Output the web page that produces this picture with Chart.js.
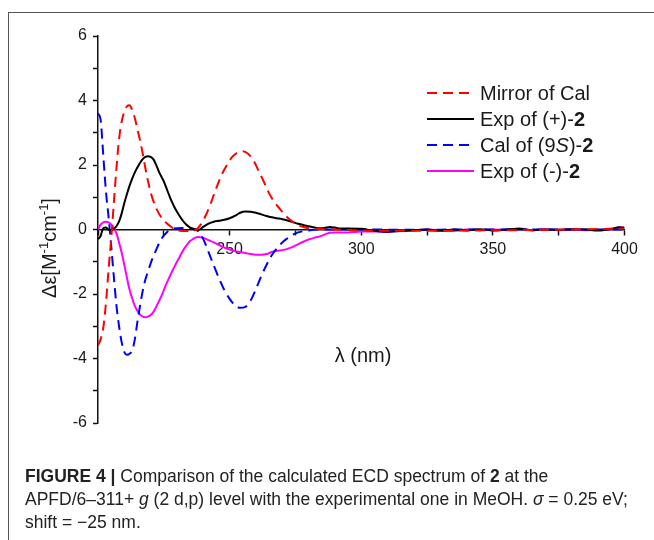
<!DOCTYPE html>
<html lang="en">
<head>
<meta charset="UTF-8">
<title>Figure 4 - ECD spectra</title>
<script src="https://cdn.jsdelivr.net/npm/chart.js"></script>
<style>
    html, body { margin: 0; padding: 0; background: #fff; }
    body { width: 654px; height: 540px; position: relative; overflow: hidden; font-family: "Liberation Sans", Arial, sans-serif; }
    #frame { position: absolute; left: 8px; top: 12px; right: -4px; bottom: -4px; border-top: 1.5px solid #555; border-left: 1.5px solid #555; }
    #ecd { position: absolute; left: 0; top: 0; }
    .caption { position: absolute; left: 25px; top: 465px; font-size: 17.5px; line-height: 23px; color: #222; white-space: nowrap; }
</style>
</head>
<body>
<div id="frame"></div>
<canvas id="ecd" width="654" height="540"></canvas>
<div class="caption">
    <b>FIGURE 4 |</b> Comparison of the calculated ECD spectrum of <b>2</b> at the<br>
    APFD/6–311+ <i>g</i> (2 d,p) level with the experimental one in MeOH. <i>σ</i> = 0.25 eV;<br>
    shift = −25 nm.
</div>

<script>
    // Mirror of Cal (red dashed)
    const wlMirror = [200, 201, 202, 203, 204, 205, 206, 207, 208, 209, 210, 211, 212, 213, 214, 215, 216, 217, 218, 219, 220,
        222, 224, 226, 228, 230, 234, 237, 239, 241, 243, 245, 247, 249, 251, 253, 255, 257, 259, 261, 263, 265, 267, 269,
        271, 273, 275, 278, 282, 290, 300, 320, 340, 360, 380, 400];
    const mirrorCal = [-3.6, -3.4, -3.05, -2.3, -1.25, -0.3, 0.8, 1.9, 2.8, 3.35, 3.65, 3.82, 3.85, 3.7, 3.45, 3.1, 2.75, 2.35, 1.9, 1.5, 1.15,
        0.68, 0.38, 0.2, 0.07, -0.02, -0.05, -0.02, 0.15, 0.45, 0.85, 1.3, 1.7, 2.0, 2.25, 2.38, 2.43, 2.35, 2.15, 1.82, 1.48, 1.12, 0.85, 0.65,
        0.45, 0.3, 0.18, 0.08, 0.03, 0, -0.03, -0.04, -0.03, -0.02, 0, 0.03];

    // Cal of (9S)-2 (blue dashed)
    const wlCal = [200, 201, 202, 203, 204, 205, 206, 207, 208, 209, 210, 211, 212, 213, 214, 215, 216, 217, 218, 219, 220,
        222, 224, 226, 228, 232, 236, 238, 240, 242, 244, 246, 248, 250, 252, 254, 256, 258, 260, 262, 264, 266, 268, 270,
        272, 274, 276, 280, 285, 290, 300, 320, 340, 360, 380, 400];
    const calS = [3.6, 3.4, 2.3, 1.2, 0.4, -0.5, -1.45, -2.35, -3.0, -3.5, -3.8, -3.88, -3.85, -3.75, -3.4, -2.85, -2.35, -1.9, -1.55, -1.3, -1.05,
        -0.65, -0.3, -0.1, 0.02, 0.05, 0.03, -0.05, -0.3, -0.7, -1.12, -1.52, -1.88, -2.15, -2.35, -2.43, -2.4, -2.2, -1.85, -1.45, -1.1, -0.8, -0.58, -0.4,
        -0.27, -0.16, -0.09, -0.03, 0, 0, 0, -0.01, 0, 0, 0, 0];

    // experimental spectra share one wavelength grid
    const wlExp = [200, 201, 202, 203, 204, 205, 206, 207, 208, 209, 210, 211, 212, 213, 214, 215, 216, 217, 218, 219,
        220, 221, 222, 223, 224, 225, 226, 227, 228, 229, 230, 231, 232, 233, 234, 235, 236, 237, 238, 239, 240,
        242, 244, 246, 248, 250, 252, 254, 256, 258, 260, 262, 264, 266, 268, 270, 272, 274, 276, 278, 280, 282, 284, 286, 288, 290, 292,
        295, 300, 305, 310, 315, 320, 325, 330, 335, 340, 345, 350, 355, 360, 365, 370, 375, 380, 385, 390, 395, 398, 400];

    // Exp of (+)-2 (black)
    const expPlus = [-0.3, -0.2, 0.04, 0.06, 0.0, -0.02, 0.02, 0.1, 0.25, 0.5,
        0.82, 1.1, 1.36, 1.58, 1.77, 1.93, 2.07, 2.18, 2.25, 2.27,
        2.25, 2.18, 2.02, 1.82, 1.65, 1.49, 1.28, 1.07, 0.87, 0.7,
        0.55, 0.42, 0.3, 0.2, 0.12, 0.06, 0.02, -0.01, -0.02, 0.02, 0.08,
        0.18, 0.24, 0.27, 0.3, 0.35, 0.42, 0.52, 0.56, 0.55, 0.52, 0.47, 0.42, 0.38, 0.35, 0.32, 0.28, 0.23, 0.18, 0.14, 0.1, 0.07, 0.04, 0.05, 0.08, 0.06, 0.03,
        0.03, 0.02, -0.04, -0.07, -0.05, -0.02, 0, -0.04, 0.0, -0.03, 0.01, -0.03, 0.0, 0.02, -0.02, 0, -0.01, 0.01, 0, -0.03, 0.02, 0.07, 0.06];

    // Exp of (-)-2 (magenta)
    const expMinus = [0.0, 0.15, 0.22, 0.24, 0.22, 0.16, 0.05, -0.12, -0.4, -0.72,
        -1.1, -1.5, -1.87, -2.14, -2.37, -2.53, -2.64, -2.7, -2.72, -2.7,
        -2.65, -2.56, -2.42, -2.25, -2.08, -1.88, -1.68, -1.5, -1.33, -1.16,
        -1.0, -0.85, -0.7, -0.56, -0.45, -0.36, -0.3, -0.25, -0.23, -0.24, -0.26,
        -0.33, -0.4, -0.48, -0.56, -0.62, -0.67, -0.7, -0.73, -0.76, -0.78, -0.78, -0.76, -0.7, -0.66, -0.64, -0.6, -0.54, -0.46, -0.38, -0.31, -0.26, -0.22, -0.16, -0.1, -0.09, -0.09,
        -0.09, -0.06, -0.06, -0.08, -0.03, -0.03, 0.0, -0.02, -0.05, 0.0, -0.02, 0.0, -0.02, 0.03, -0.03, 0.01, -0.02, 0.0, -0.02, -0.01, 0.01, 0.06, 0.05];

    const xTicks = [250, 300, 350, 400];
    const yTicks = [-6, -4, -2, 0, 2, 4, 6];

    const FONT = '"Liberation Sans", Arial, sans-serif';

    function pts(xs, ys) {
        return xs.map((x, i) => ({ x: x, y: ys[i] }));
    }

    const series = [
        { label: 'Mirror of Cal', data: pts(wlMirror, mirrorCal), color: '#ff0000', dash: [10, 6] },
        { label: 'Exp of (+)-2', data: pts(wlExp, expPlus), color: '#000000', dash: [] },
        { label: 'Cal of (9S)-2', data: pts(wlCal, calS), color: '#0000ff', dash: [10, 6] },
        { label: 'Exp of (-)-2', data: pts(wlExp, expMinus), color: '#ff00ff', dash: [] }
    ];

    // legend text, with bold / italic pieces
    const legendParts = [
        [['Mirror of Cal', '']],
        [['Exp of (+)-', ''], ['2', 'bold']],
        [['Cal of (9', ''], ['S', 'italic'], [')-', ''], ['2', 'bold']],
        [['Exp of (-)-', ''], ['2', 'bold']]
    ];

    function drawParts(ctx, parts, x, y, size) {
        parts.forEach(p => {
            ctx.font = p[1] + ' ' + size + 'px ' + FONT;
            ctx.fillText(p[0], x, y);
            x += ctx.measureText(p[0]).width;
        });
    }

    const extras = {
        id: 'extras',
        afterDraw(chart) {
            const ctx = chart.ctx;
            ctx.save();
            ctx.fillStyle = '#1a1a1a';
            ctx.textBaseline = 'alphabetic';

            // y title  Δε[M-1cm-1]
            const yt = [['Δε[M', 20, 0], ['-1', 13, -8], ['cm', 20, 0], ['-1', 13, -8], [']', 20, 0]];
            let w = 0;
            yt.forEach(p => { ctx.font = p[1] + 'px ' + FONT; w += ctx.measureText(p[0]).width; });
            ctx.translate(56, 248);
            ctx.rotate(-Math.PI / 2);
            let x = -w / 2;
            yt.forEach(p => {
                ctx.font = p[1] + 'px ' + FONT;
                ctx.fillText(p[0], x, p[2]);
                x += ctx.measureText(p[0]).width;
            });
            ctx.setTransform(1, 0, 0, 1, 0, 0);

            // x title
            ctx.font = '20px ' + FONT;
            ctx.textAlign = 'center';
            ctx.fillText('λ (nm)', 363, 362);
            ctx.textAlign = 'left';

            // legend
            const rows = [93, 119, 145, 171];
            series.forEach((s, i) => {
                ctx.strokeStyle = s.color;
                ctx.lineWidth = 2;
                ctx.setLineDash(s.dash);
                ctx.beginPath();
                ctx.moveTo(427, rows[i]);
                ctx.lineTo(474, rows[i]);
                ctx.stroke();
                ctx.setLineDash([]);
                drawParts(ctx, legendParts[i], 480, rows[i] + 7, 20);
            });
            ctx.restore();
        }
    };

    const config = {
        type: 'line',
        data: {
            datasets: series.map(s => ({
                label: s.label,
                data: s.data,
                borderColor: s.color,
                borderDash: s.dash,
                borderWidth: 2,
                pointRadius: 0,
                fill: false,
                cubicInterpolationMode: 'monotone'
            }))
        },
        options: {
            responsive: false,
            animation: false,
            layout: { padding: { left: 58, top: 36, right: 29.5, bottom: 117 } },
            plugins: { legend: { display: false }, tooltip: { enabled: false } },
            scales: {
                x: {
                    type: 'linear',
                    position: { y: 0 },
                    min: 200,
                    max: 400,
                    afterFit: scale => { scale.height = 0; },
                    border: { display: true, color: '#111', width: 1.5 },
                    grid: { drawOnChartArea: false, drawTicks: true, tickLength: 5, tickWidth: 1.5, tickColor: '#111' },
                    ticks: {
                        stepSize: 25,
                        autoSkip: false,
                        maxRotation: 0,
                        padding: 5,
                        color: '#1a1a1a',
                        font: { family: FONT, size: 16 },
                        callback: v => xTicks.includes(v) ? String(v) : ''
                    }
                },
                y: {
                    type: 'linear',
                    position: 'left',
                    min: -6,
                    max: 6,
                    afterFit: scale => { scale.width = 40; },
                    border: { display: true, color: '#111', width: 1.5 },
                    grid: { drawOnChartArea: false, drawTicks: true, tickLength: 5, tickWidth: 1.5, tickColor: '#111' },
                    ticks: {
                        stepSize: 1,
                        autoSkip: false,
                        padding: 6,
                        color: '#1a1a1a',
                        font: { family: FONT, size: 16 },
                        callback: v => yTicks.includes(v) ? String(v) : ''
                    }
                }
            }
        },
        plugins: [extras]
    };

    const ecdChart = new Chart(document.getElementById('ecd'), config);
</script>
</body>
</html>
